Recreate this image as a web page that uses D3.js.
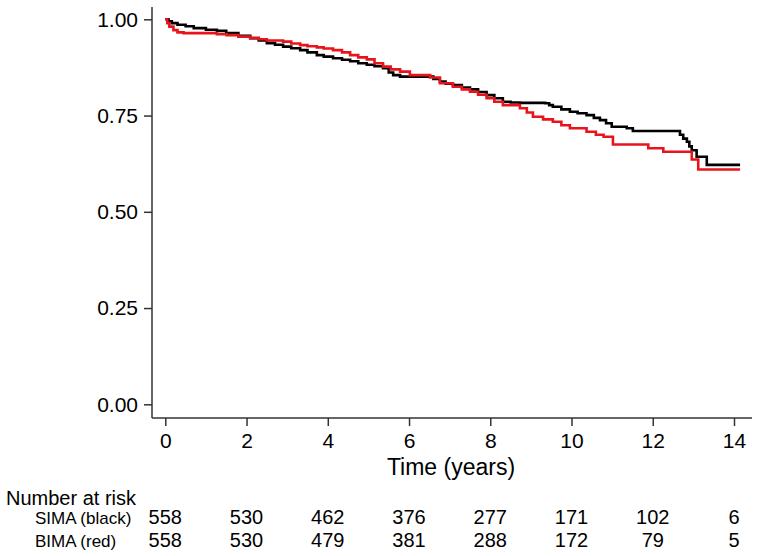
<!DOCTYPE html>
<html>
<head>
<meta charset="utf-8">
<script src="https://cdn.jsdelivr.net/npm/d3@7"></script>
<style>
  html, body { margin: 0; padding: 0; background: #fff; }
  svg { display: block; font-family: "Liberation Sans", Arial, Helvetica, sans-serif; }
</style>
</head>
<body>
<svg id="chart" width="759" height="556"></svg>
<script>
// ---- Data ----
const simaTimes = [0, 0.08, 0.16, 0.3, 0.5, 0.7, 1.0, 1.27, 1.5, 1.8, 2.09, 2.3, 2.5, 2.7, 2.9, 3.1, 3.32, 3.5, 3.73, 3.9, 4.13, 4.35, 4.55, 4.75, 4.96, 5.15, 5.36, 5.5, 5.61, 5.78, 6.6, 6.76, 6.9, 7.08, 7.3, 7.5, 7.7, 7.91, 8.1, 8.31, 8.5, 8.73, 9.35, 9.45, 9.54, 9.75, 9.96, 10.15, 10.37, 10.55, 10.7, 10.85, 10.99, 11.36, 11.51, 12.67, 12.75, 12.84, 12.9, 12.96, 13.08, 13.33, 14.15];
const simaSurv  = [1.000, 0.995, 0.990, 0.986, 0.982, 0.977, 0.973, 0.970, 0.964, 0.957, 0.951, 0.945, 0.938, 0.934, 0.929, 0.925, 0.920, 0.914, 0.907, 0.903, 0.899, 0.895, 0.891, 0.886, 0.882, 0.878, 0.873, 0.862, 0.855, 0.851, 0.845, 0.838, 0.833, 0.829, 0.823, 0.818, 0.811, 0.803, 0.795, 0.786, 0.784, 0.783, 0.782, 0.777, 0.773, 0.766, 0.760, 0.756, 0.751, 0.744, 0.738, 0.730, 0.721, 0.717, 0.710, 0.700, 0.690, 0.682, 0.670, 0.660, 0.643, 0.622, 0.622];

const bimaTimes = [0, 0.05, 0.1, 0.2, 0.3, 0.45, 1.27, 1.51, 1.8, 2.09, 2.3, 2.5, 2.9, 3.1, 3.32, 3.5, 3.73, 3.9, 4.13, 4.35, 4.55, 4.75, 4.96, 5.15, 5.36, 5.55, 5.78, 6.02, 6.52, 6.76, 7.08, 7.3, 7.5, 7.7, 7.91, 8.1, 8.31, 8.73, 8.9, 9.05, 9.3, 9.54, 9.75, 9.96, 10.37, 10.6, 10.79, 11.02, 11.89, 12.26, 12.96, 13.12, 14.15];
const bimaSurv  = [1.000, 0.990, 0.981, 0.972, 0.966, 0.964, 0.961, 0.959, 0.955, 0.951, 0.948, 0.945, 0.942, 0.937, 0.933, 0.930, 0.927, 0.924, 0.920, 0.914, 0.907, 0.901, 0.896, 0.886, 0.877, 0.870, 0.864, 0.855, 0.849, 0.834, 0.825, 0.818, 0.812, 0.804, 0.795, 0.786, 0.777, 0.769, 0.758, 0.747, 0.740, 0.734, 0.725, 0.717, 0.708, 0.700, 0.695, 0.675, 0.665, 0.656, 0.636, 0.610, 0.610];

const xTicks = [0, 2, 4, 6, 8, 10, 12, 14];
const yTicks = [0, 0.25, 0.5, 0.75, 1.0];

const riskLabels = ["SIMA (black)", "BIMA (red)"];
const simaRisk = [558, 530, 462, 376, 277, 171, 102, 6];
const bimaRisk = [558, 530, 479, 381, 288, 172, 79, 5];

const seriesColors = ["#000000", "#e8141b"];

// ---- Layout ----
const svg = d3.select("#chart");
const x = d3.scaleLinear().domain([0, 14]).range([165.3, 734]);
const y = d3.scaleLinear().domain([0, 1]).range([404.3, 19.3]);
const axisColor = "#333";

const plotLeft = 152, plotRight = 752, plotTop = 7, plotBottom = 418;

// Axes
const gx = svg.append("g").attr("transform", `translate(0,${plotBottom})`)
  .call(d3.axisBottom(x).tickValues(xTicks).tickSize(8).tickPadding(7).tickSizeOuter(0).tickFormat(d3.format("d")));
gx.select(".domain").attr("d", `M${plotLeft},0H${plotRight}`);

const gy = svg.append("g").attr("transform", `translate(${plotLeft},0)`)
  .call(d3.axisLeft(y).tickValues(yTicks).tickSize(8).tickPadding(6).tickSizeOuter(0).tickFormat(d3.format(".2f")));
gy.select(".domain").attr("d", `M0,${plotTop}V${plotBottom}`);

[gx, gy].forEach(g => {
  g.selectAll(".domain, .tick line").attr("stroke", axisColor).attr("stroke-width", 1.5);
  g.selectAll(".tick text").attr("fill", "#000").style("font-size", "21px")
    .style("font-family", '"Liberation Sans", Arial, sans-serif');
});

// Curves
const line = d3.line().x(d => x(d[0])).y(d => y(d[1])).curve(d3.curveStepAfter);
const series = [
  d3.zip(simaTimes, simaSurv),
  d3.zip(bimaTimes, bimaSurv)
];
svg.append("g").selectAll("path").data(series).join("path")
  .attr("d", line)
  .attr("fill", "none")
  .attr("stroke", (d, i) => seriesColors[i])
  .attr("stroke-width", 2.6)
  .attr("stroke-linejoin", "miter");

// Axis title
svg.append("text").attr("x", 451).attr("y", 475).attr("text-anchor", "middle")
  .style("font-size", "23px").text("Time (years)");

// Number at risk table
svg.append("text").attr("x", 6).attr("y", 505).style("font-size", "20px").text("Number at risk");
const rows = [simaRisk, bimaRisk];
const rowY = [524, 547];
rows.forEach((vals, r) => {
  svg.append("text").attr("x", 35).attr("y", rowY[r]).style("font-size", "17px").text(riskLabels[r]);
  svg.append("g").selectAll("text").data(vals).join("text")
    .attr("x", (d, i) => x(xTicks[i]))
    .attr("y", rowY[r])
    .attr("text-anchor", "middle")
    .style("font-size", "20px")
    .text(d => d);
});
</script>
</body>
</html>
